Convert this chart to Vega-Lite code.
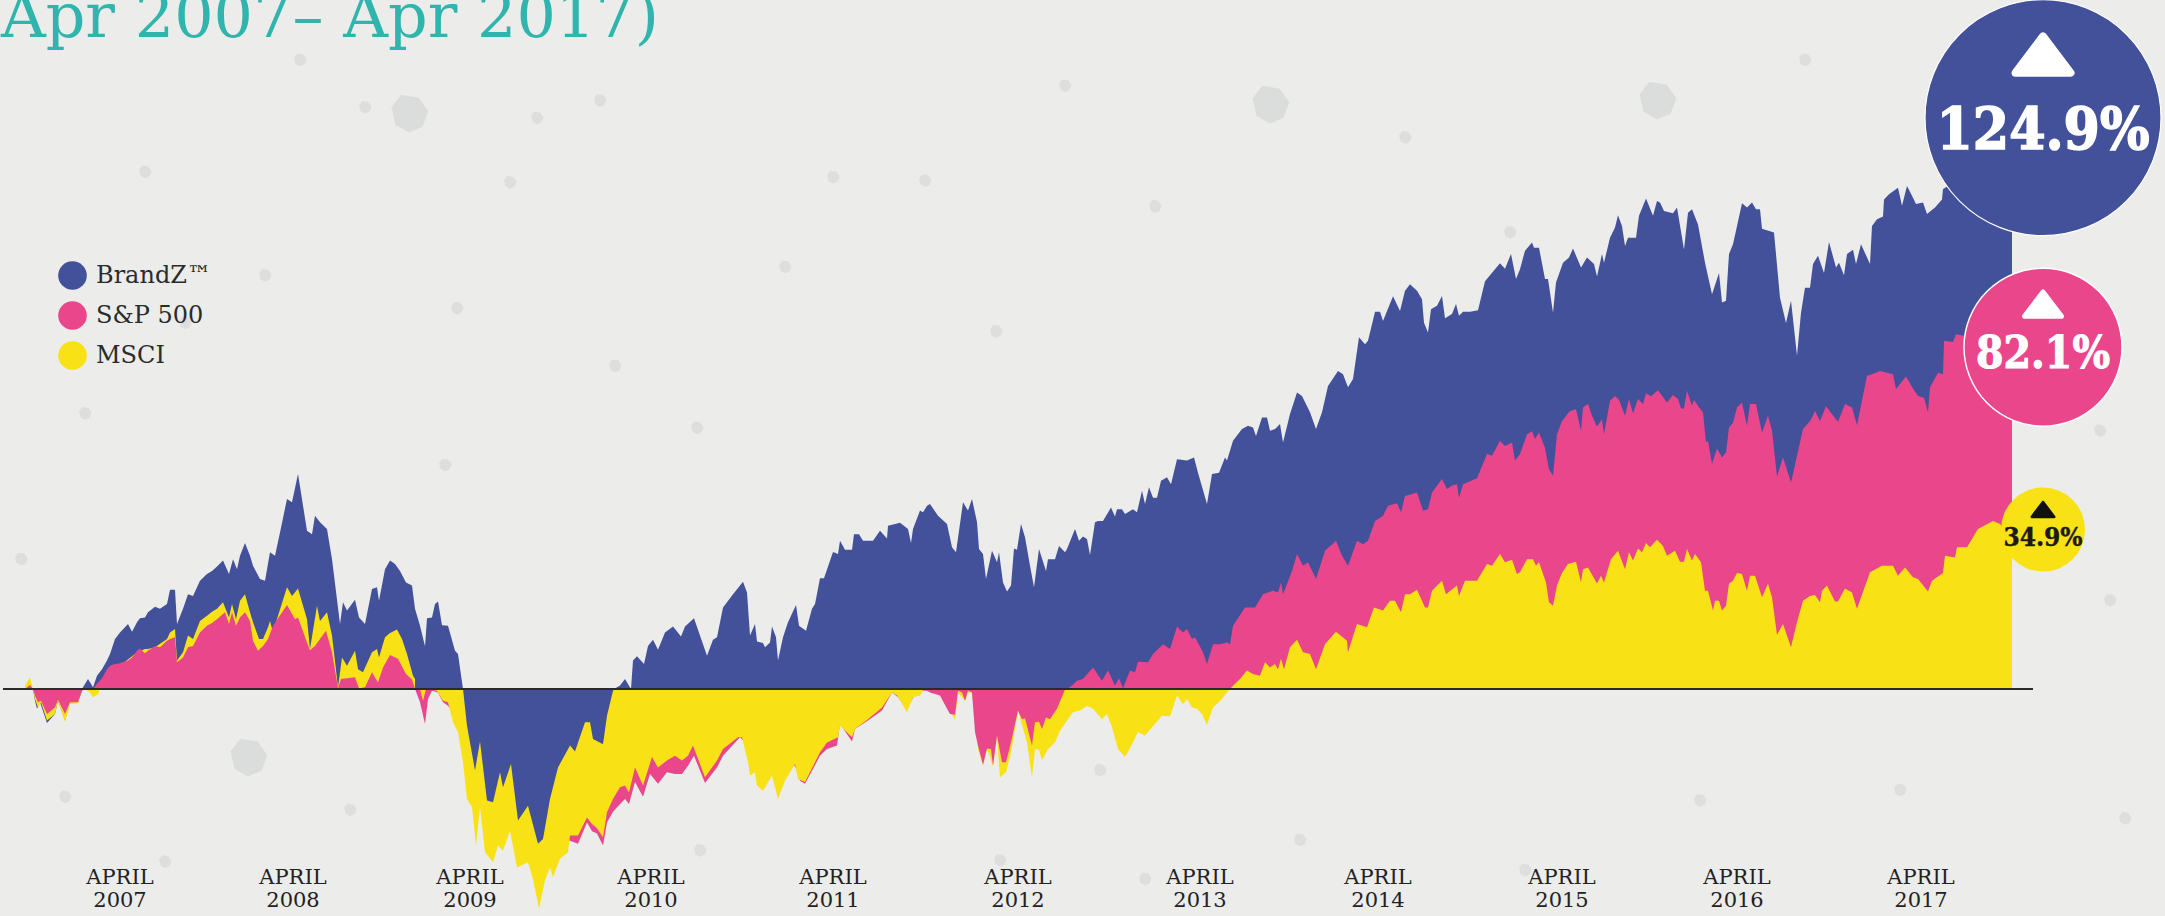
{
"$schema":"https://vega.github.io/schema/vega-lite/v6.json",
"width":2165,"height":916,"padding":0,"autosize":{"type":"none"},
"background":"#ececea",
"config":{"view":{"stroke":null}},
"datasets":{
"pits":[{"session":223,"pct":-15.8},{"session":384,"pct":133.6},{"session":1245,"pct":135.7},{"session":1632,"pct":136.6}],
"specks":[{"session":340,"pct":135},{"session":512,"pct":132.5},{"session":432,"pct":88.4},{"session":485,"pct":117.6},{"session":-4,"pct":30.2},{"session":808,"pct":118.8},{"session":672,"pct":60.6},{"session":971,"pct":83},{"session":2085,"pct":20.6},{"session":2075,"pct":60},{"session":1485,"pct":106},{"session":575,"pct":136.6},{"session":275,"pct":146},{"session":1075,"pct":-18.8},{"session":1275,"pct":-35},{"session":1675,"pct":-25.8},{"session":1875,"pct":-23.4},{"session":325,"pct":-28},{"session":675,"pct":-37.4},{"session":975,"pct":-39.7},{"session":120,"pct":120},{"session":160,"pct":85},{"session":60,"pct":64},{"session":240,"pct":96},{"session":420,"pct":52},{"session":590,"pct":75},{"session":760,"pct":98},{"session":900,"pct":118},{"session":1040,"pct":140},{"session":1130,"pct":112},{"session":1380,"pct":128},{"session":1780,"pct":146},{"session":2100,"pct":-30},{"session":1500,"pct":-42},{"session":1120,"pct":-44},{"session":140,"pct":-40},{"session":40,"pct":-25}],
"brandz":[{"session":0,"pct":0},{"session":5,"pct":0.6},{"session":8,"pct":0},{"session":10,"pct":-2.7},{"session":12,"pct":-4.6},{"session":15,"pct":-3.1},{"session":22,"pct":-7.9},{"session":30,"pct":-5.8},{"session":33,"pct":-2.7},{"session":40,"pct":-7.3},{"session":45,"pct":-3.1},{"session":53,"pct":-3.1},{"session":57,"pct":-0.4},{"session":58,"pct":0.4},{"session":63,"pct":2.3},{"session":68,"pct":0.4},{"session":72,"pct":3.1},{"session":77,"pct":4.6},{"session":82,"pct":6.6},{"session":85,"pct":8.1},{"session":90,"pct":11.6},{"session":95,"pct":13.1},{"session":103,"pct":15.1},{"session":107,"pct":13.3},{"session":112,"pct":15.5},{"session":115,"pct":16.4},{"session":120,"pct":16.6},{"session":123,"pct":17.8},{"session":130,"pct":19.1},{"session":135,"pct":18.6},{"session":142,"pct":19.7},{"session":145,"pct":23},{"session":150,"pct":23},{"session":152,"pct":15.1},{"session":158,"pct":18.6},{"session":163,"pct":22},{"session":168,"pct":21.6},{"session":175,"pct":25.1},{"session":182,"pct":26.7},{"session":187,"pct":27.4},{"session":192,"pct":28.4},{"session":198,"pct":29.8},{"session":204,"pct":26.7},{"session":208,"pct":30.1},{"session":212,"pct":27.8},{"session":215,"pct":30.9},{"session":220,"pct":33.9},{"session":225,"pct":30.9},{"session":228,"pct":28.6},{"session":235,"pct":25.5},{"session":240,"pct":25.1},{"session":245,"pct":31.7},{"session":250,"pct":30.9},{"session":255,"pct":36.3},{"session":262,"pct":44.1},{"session":267,"pct":43.3},{"session":273,"pct":49.9},{"session":282,"pct":36.7},{"session":287,"pct":35.9},{"session":290,"pct":40.2},{"session":295,"pct":38.7},{"session":302,"pct":37.1},{"session":307,"pct":30.1},{"session":315,"pct":15.1},{"session":318,"pct":20.1},{"session":322,"pct":18.2},{"session":330,"pct":20.7},{"session":334,"pct":16.6},{"session":340,"pct":15.1},{"session":347,"pct":23.2},{"session":352,"pct":23.6},{"session":354,"pct":20.5},{"session":360,"pct":27.8},{"session":365,"pct":29.8},{"session":370,"pct":29},{"session":375,"pct":27.4},{"session":381,"pct":24.7},{"session":387,"pct":24},{"session":390,"pct":18.6},{"session":395,"pct":14.7},{"session":400,"pct":9.9},{"session":402,"pct":16.4},{"session":407,"pct":16.6},{"session":410,"pct":19.7},{"session":413,"pct":20.3},{"session":417,"pct":14.8},{"session":423,"pct":14.7},{"session":430,"pct":8.9},{"session":433,"pct":8.1},{"session":438,"pct":0},{"session":442,"pct":-8.5},{"session":450,"pct":-18.9},{"session":455,"pct":-12.2},{"session":462,"pct":-25.9},{"session":468,"pct":-26.3},{"session":475,"pct":-19.3},{"session":478,"pct":-22.8},{"session":486,"pct":-17.4},{"session":493,"pct":-30.5},{"session":503,"pct":-27.1},{"session":513,"pct":-35.9},{"session":518,"pct":-34.8},{"session":525,"pct":-25.5},{"session":533,"pct":-18.2},{"session":545,"pct":-13.1},{"session":550,"pct":-14.5},{"session":560,"pct":-7.7},{"session":565,"pct":-7.7},{"session":568,"pct":-11.6},{"session":578,"pct":-12.8},{"session":582,"pct":-6.2},{"session":588,"pct":-0.4},{"session":590,"pct":0.1},{"session":592,"pct":0.4},{"session":595,"pct":0.8},{"session":600,"pct":2.3},{"session":606,"pct":0},{"session":608,"pct":6.6},{"session":612,"pct":7.6},{"session":619,"pct":5.8},{"session":623,"pct":10},{"session":628,"pct":11.4},{"session":633,"pct":9.1},{"session":640,"pct":13.1},{"session":648,"pct":14.5},{"session":656,"pct":12.2},{"session":660,"pct":14.5},{"session":669,"pct":16.4},{"session":682,"pct":7.7},{"session":688,"pct":11.4},{"session":692,"pct":12},{"session":698,"pct":18.9},{"session":708,"pct":22},{"session":718,"pct":24.9},{"session":722,"pct":22.4},{"session":725,"pct":12.4},{"session":730,"pct":15.1},{"session":732,"pct":11},{"session":738,"pct":10.7},{"session":740,"pct":9.7},{"session":745,"pct":10.8},{"session":747,"pct":14.5},{"session":751,"pct":12},{"session":753,"pct":6.6},{"session":758,"pct":12},{"session":763,"pct":15.5},{"session":771,"pct":19.5},{"session":774,"pct":14.7},{"session":781,"pct":13.5},{"session":787,"pct":18.6},{"session":790,"pct":19.7},{"session":795,"pct":25.7},{"session":799,"pct":25.7},{"session":808,"pct":31.8},{"session":813,"pct":31.3},{"session":815,"pct":34.4},{"session":820,"pct":32.3},{"session":827,"pct":32.3},{"session":829,"pct":35.9},{"session":834,"pct":35.9},{"session":838,"pct":34.4},{"session":848,"pct":34.4},{"session":855,"pct":36.7},{"session":862,"pct":34.9},{"session":863,"pct":37.9},{"session":875,"pct":38.6},{"session":883,"pct":37.1},{"session":886,"pct":33.9},{"session":888,"pct":37.1},{"session":895,"pct":41.4},{"session":898,"pct":41},{"session":902,"pct":42.5},{"session":905,"pct":42.9},{"session":913,"pct":40.2},{"session":922,"pct":38.3},{"session":927,"pct":32.9},{"session":931,"pct":31.7},{"session":938,"pct":43.3},{"session":943,"pct":41.4},{"session":947,"pct":44.1},{"session":952,"pct":38.7},{"session":954,"pct":32.5},{"session":958,"pct":31.3},{"session":961,"pct":25.5},{"session":967,"pct":32.1},{"session":972,"pct":29.4},{"session":974,"pct":31.7},{"session":978,"pct":24.7},{"session":982,"pct":22.6},{"session":986,"pct":24},{"session":989,"pct":32.6},{"session":992,"pct":32.3},{"session":996,"pct":38.3},{"session":1000,"pct":35.2},{"session":1005,"pct":28.6},{"session":1009,"pct":23.6},{"session":1014,"pct":32.5},{"session":1021,"pct":27.4},{"session":1023,"pct":30.1},{"session":1030,"pct":30.1},{"session":1034,"pct":33.2},{"session":1040,"pct":31.7},{"session":1042,"pct":32.5},{"session":1050,"pct":37.1},{"session":1054,"pct":34.4},{"session":1058,"pct":35.4},{"session":1062,"pct":34.8},{"session":1065,"pct":31.1},{"session":1070,"pct":38.7},{"session":1073,"pct":39},{"session":1078,"pct":39},{"session":1086,"pct":42.1},{"session":1090,"pct":40},{"session":1092,"pct":41.7},{"session":1097,"pct":41.7},{"session":1100,"pct":40.6},{"session":1108,"pct":41.7},{"session":1112,"pct":41},{"session":1117,"pct":46},{"session":1120,"pct":42.9},{"session":1124,"pct":46.8},{"session":1128,"pct":44.4},{"session":1132,"pct":44.4},{"session":1136,"pct":48.3},{"session":1142,"pct":49.1},{"session":1146,"pct":47.5},{"session":1152,"pct":53.3},{"session":1162,"pct":53},{"session":1169,"pct":53.7},{"session":1173,"pct":50.2},{"session":1182,"pct":42.9},{"session":1187,"pct":49.9},{"session":1194,"pct":50.2},{"session":1200,"pct":53.7},{"session":1202,"pct":53},{"session":1208,"pct":57.6},{"session":1217,"pct":60.3},{"session":1223,"pct":61.1},{"session":1228,"pct":60.7},{"session":1231,"pct":58.7},{"session":1237,"pct":63},{"session":1242,"pct":63},{"session":1245,"pct":59.9},{"session":1250,"pct":60.3},{"session":1255,"pct":61.5},{"session":1258,"pct":57.2},{"session":1265,"pct":63.8},{"session":1272,"pct":68.8},{"session":1277,"pct":68},{"session":1285,"pct":64.2},{"session":1291,"pct":60.3},{"session":1297,"pct":64.2},{"session":1303,"pct":70.3},{"session":1313,"pct":73.8},{"session":1318,"pct":73},{"session":1323,"pct":70},{"session":1328,"pct":71.9},{"session":1334,"pct":81.6},{"session":1340,"pct":80},{"session":1343,"pct":80.8},{"session":1350,"pct":87.5},{"session":1355,"pct":87.5},{"session":1358,"pct":85.4},{"session":1368,"pct":91.1},{"session":1375,"pct":87.7},{"session":1380,"pct":92.4},{"session":1385,"pct":93.9},{"session":1392,"pct":92.4},{"session":1397,"pct":90.4},{"session":1399,"pct":85},{"session":1403,"pct":82.7},{"session":1406,"pct":88.1},{"session":1412,"pct":88.9},{"session":1417,"pct":91.2},{"session":1420,"pct":86},{"session":1427,"pct":87},{"session":1431,"pct":89.3},{"session":1434,"pct":86.6},{"session":1438,"pct":87.5},{"session":1445,"pct":87.5},{"session":1453,"pct":87.9},{"session":1460,"pct":94.6},{"session":1475,"pct":98.8},{"session":1480,"pct":97.5},{"session":1486,"pct":100.9},{"session":1491,"pct":95.1},{"session":1495,"pct":97.4},{"session":1500,"pct":101.7},{"session":1507,"pct":103.6},{"session":1509,"pct":102.4},{"session":1514,"pct":102.4},{"session":1520,"pct":95.1},{"session":1523,"pct":95.1},{"session":1528,"pct":87.3},{"session":1531,"pct":94.3},{"session":1538,"pct":98.9},{"session":1544,"pct":100.1},{"session":1548,"pct":102.2},{"session":1556,"pct":97.8},{"session":1562,"pct":100.1},{"session":1569,"pct":98.6},{"session":1572,"pct":95.7},{"session":1577,"pct":100.9},{"session":1579,"pct":98.9},{"session":1585,"pct":104.7},{"session":1590,"pct":107.1},{"session":1593,"pct":109.9},{"session":1597,"pct":107.4},{"session":1600,"pct":102.8},{"session":1603,"pct":104.7},{"session":1611,"pct":104.7},{"session":1614,"pct":109.8},{"session":1621,"pct":113.8},{"session":1628,"pct":109.8},{"session":1632,"pct":113.2},{"session":1635,"pct":112.9},{"session":1639,"pct":110.9},{"session":1648,"pct":110.4},{"session":1652,"pct":111.7},{"session":1659,"pct":102},{"session":1663,"pct":110.5},{"session":1667,"pct":111.3},{"session":1673,"pct":107.8},{"session":1680,"pct":98.9},{"session":1687,"pct":91.6},{"session":1694,"pct":96.5},{"session":1697,"pct":89.7},{"session":1701,"pct":90.1},{"session":1704,"pct":100.9},{"session":1708,"pct":103.2},{"session":1717,"pct":112.7},{"session":1722,"pct":111.7},{"session":1727,"pct":112.9},{"session":1731,"pct":111.3},{"session":1735,"pct":111.3},{"session":1737,"pct":106.8},{"session":1749,"pct":105.9},{"session":1755,"pct":90.8},{"session":1761,"pct":84.9},{"session":1766,"pct":90.1},{"session":1772,"pct":77.3},{"session":1776,"pct":87.3},{"session":1780,"pct":93.1},{"session":1785,"pct":93.1},{"session":1788,"pct":98.6},{"session":1793,"pct":100.5},{"session":1799,"pct":96.5},{"session":1804,"pct":103.7},{"session":1811,"pct":97.8},{"session":1814,"pct":98.9},{"session":1819,"pct":96},{"session":1822,"pct":100.9},{"session":1828,"pct":101.9},{"session":1831,"pct":98.6},{"session":1836,"pct":103.2},{"session":1845,"pct":98.6},{"session":1847,"pct":107.4},{"session":1852,"pct":109},{"session":1858,"pct":109.6},{"session":1859,"pct":113.6},{"session":1864,"pct":114.8},{"session":1873,"pct":116.3},{"session":1877,"pct":112.1},{"session":1882,"pct":116.7},{"session":1888,"pct":114},{"session":1891,"pct":112.5},{"session":1898,"pct":112.9},{"session":1902,"pct":110.2},{"session":1910,"pct":111.7},{"session":1917,"pct":113.6},{"session":1918,"pct":116},{"session":1940,"pct":119},{"session":1987,"pct":124.9}],
"sp500":[{"session":0,"pct":0},{"session":5,"pct":0.9},{"session":8,"pct":0},{"session":10,"pct":-1.5},{"session":13,"pct":-3.1},{"session":16,"pct":-2.7},{"session":22,"pct":-5.8},{"session":30,"pct":-4.3},{"session":33,"pct":-2.5},{"session":40,"pct":-5.8},{"session":45,"pct":-3.1},{"session":53,"pct":-3.1},{"session":57,"pct":-0.4},{"session":60,"pct":0},{"session":68,"pct":0},{"session":72,"pct":1.2},{"session":77,"pct":2.5},{"session":82,"pct":4.6},{"session":85,"pct":5.4},{"session":90,"pct":5.8},{"session":95,"pct":6},{"session":103,"pct":6.6},{"session":107,"pct":7.3},{"session":112,"pct":8.9},{"session":115,"pct":9.4},{"session":120,"pct":8.3},{"session":123,"pct":8.9},{"session":130,"pct":10},{"session":135,"pct":9.7},{"session":142,"pct":11.2},{"session":145,"pct":11.6},{"session":150,"pct":12},{"session":152,"pct":6.2},{"session":158,"pct":7.3},{"session":163,"pct":9.7},{"session":168,"pct":10},{"session":175,"pct":13.1},{"session":182,"pct":14.7},{"session":187,"pct":15.3},{"session":192,"pct":16.2},{"session":200,"pct":17.8},{"session":204,"pct":15.1},{"session":207,"pct":17.8},{"session":211,"pct":14.7},{"session":215,"pct":16.6},{"session":220,"pct":17.8},{"session":225,"pct":15.8},{"session":228,"pct":11.2},{"session":233,"pct":8.9},{"session":238,"pct":10},{"session":243,"pct":11.6},{"session":248,"pct":14.7},{"session":262,"pct":19.5},{"session":270,"pct":16.2},{"session":273,"pct":16.6},{"session":282,"pct":10.8},{"session":285,"pct":9},{"session":290,"pct":10},{"session":295,"pct":11.6},{"session":301,"pct":13.5},{"session":307,"pct":8.5},{"session":313,"pct":0.2},{"session":316,"pct":2.3},{"session":322,"pct":2.5},{"session":330,"pct":2.7},{"session":334,"pct":0.2},{"session":340,"pct":0.4},{"session":347,"pct":3.9},{"session":353,"pct":1.5},{"session":358,"pct":5},{"session":365,"pct":7.9},{"session":373,"pct":7},{"session":381,"pct":3.5},{"session":387,"pct":2.2},{"session":390,"pct":0},{"session":395,"pct":-3.1},{"session":400,"pct":-8.1},{"session":403,"pct":-2.3},{"session":407,"pct":-0.4},{"session":413,"pct":-0.8},{"session":418,"pct":-3.1},{"session":423,"pct":-3.9},{"session":430,"pct":-6},{"session":440,"pct":-12},{"session":450,"pct":-26},{"session":470,"pct":-30},{"session":490,"pct":-34},{"session":505,"pct":-34},{"session":520,"pct":-37},{"session":535,"pct":-34},{"session":545,"pct":-35.2},{"session":553,"pct":-35.9},{"session":562,"pct":-31},{"session":567,"pct":-33},{"session":572,"pct":-33.5},{"session":578,"pct":-36.3},{"session":582,"pct":-31},{"session":588,"pct":-28.5},{"session":595,"pct":-26.7},{"session":600,"pct":-25.5},{"session":604,"pct":-26.7},{"session":610,"pct":-21.6},{"session":618,"pct":-25},{"session":625,"pct":-19.7},{"session":633,"pct":-22},{"session":642,"pct":-19.3},{"session":650,"pct":-19.7},{"session":657,"pct":-19.7},{"session":663,"pct":-17.8},{"session":669,"pct":-15.5},{"session":680,"pct":-21.8},{"session":692,"pct":-18.2},{"session":698,"pct":-15.5},{"session":715,"pct":-11.2},{"session":723,"pct":-13.1},{"session":732,"pct":-17},{"session":747,"pct":-15.5},{"session":753,"pct":-20.1},{"session":760,"pct":-17.8},{"session":770,"pct":-17.8},{"session":775,"pct":-21.3},{"session":780,"pct":-22},{"session":795,"pct":-15.5},{"session":802,"pct":-13.9},{"session":812,"pct":-13.1},{"session":815,"pct":-8.1},{"session":827,"pct":-12.2},{"session":830,"pct":-9.3},{"session":843,"pct":-7.3},{"session":857,"pct":-5},{"session":867,"pct":-0.8},{"session":873,"pct":-1.9},{"session":882,"pct":-4.6},{"session":890,"pct":-1.2},{"session":895,"pct":-0.4},{"session":902,"pct":-0.4},{"session":905,"pct":-0.8},{"session":915,"pct":-1.5},{"session":922,"pct":-4.6},{"session":925,"pct":-5.8},{"session":930,"pct":-6},{"session":933,"pct":-0.4},{"session":937,"pct":-0.8},{"session":940,"pct":-2.7},{"session":943,"pct":-0.4},{"session":947,"pct":-0.8},{"session":950,"pct":-10},{"session":953,"pct":-13.1},{"session":958,"pct":-17.6},{"session":962,"pct":-13.8},{"session":966,"pct":-13.9},{"session":968,"pct":-17.8},{"session":972,"pct":-10.8},{"session":977,"pct":-17},{"session":981,"pct":-17},{"session":986,"pct":-12.4},{"session":993,"pct":-5},{"session":997,"pct":-7},{"session":1000,"pct":-6.8},{"session":1007,"pct":-13.1},{"session":1010,"pct":-7.7},{"session":1014,"pct":-7.6},{"session":1017,"pct":-9.3},{"session":1021,"pct":-6.6},{"session":1025,"pct":-7},{"session":1032,"pct":-4.6},{"session":1040,"pct":-0.2},{"session":1042,"pct":0},{"session":1047,"pct":0.8},{"session":1052,"pct":1.9},{"session":1058,"pct":2.3},{"session":1068,"pct":5},{"session":1077,"pct":1.9},{"session":1083,"pct":4.3},{"session":1090,"pct":0.8},{"session":1094,"pct":2.5},{"session":1098,"pct":0.2},{"session":1105,"pct":4.3},{"session":1110,"pct":3.9},{"session":1113,"pct":6.3},{"session":1123,"pct":6.2},{"session":1128,"pct":8.1},{"session":1138,"pct":10.4},{"session":1145,"pct":9.3},{"session":1152,"pct":14.5},{"session":1158,"pct":13.1},{"session":1162,"pct":13.9},{"session":1167,"pct":11.6},{"session":1170,"pct":12},{"session":1178,"pct":8.5},{"session":1182,"pct":5.8},{"session":1188,"pct":10.4},{"session":1195,"pct":10.4},{"session":1202,"pct":10.8},{"session":1205,"pct":10.4},{"session":1208,"pct":14.7},{"session":1220,"pct":18.9},{"session":1230,"pct":18.9},{"session":1238,"pct":22},{"session":1248,"pct":22.8},{"session":1253,"pct":22.4},{"session":1256,"pct":24.7},{"session":1258,"pct":22},{"session":1267,"pct":27.4},{"session":1272,"pct":31.3},{"session":1278,"pct":28.6},{"session":1283,"pct":29.4},{"session":1291,"pct":25.5},{"session":1300,"pct":32.1},{"session":1311,"pct":34.4},{"session":1317,"pct":30.9},{"session":1323,"pct":28.6},{"session":1332,"pct":34.4},{"session":1338,"pct":33.6},{"session":1343,"pct":34.4},{"session":1350,"pct":39},{"session":1358,"pct":40.2},{"session":1363,"pct":42.5},{"session":1372,"pct":43.1},{"session":1376,"pct":41},{"session":1380,"pct":44.8},{"session":1392,"pct":45.6},{"session":1398,"pct":41.4},{"session":1403,"pct":41.7},{"session":1407,"pct":45.6},{"session":1417,"pct":48.7},{"session":1422,"pct":46.4},{"session":1427,"pct":47.2},{"session":1432,"pct":47.5},{"session":1434,"pct":44.4},{"session":1438,"pct":47.5},{"session":1452,"pct":48.9},{"session":1462,"pct":54.5},{"session":1467,"pct":54.1},{"session":1475,"pct":57.6},{"session":1480,"pct":56.4},{"session":1487,"pct":57.2},{"session":1490,"pct":53},{"session":1495,"pct":54.5},{"session":1502,"pct":59.1},{"session":1507,"pct":59.8},{"session":1510,"pct":58},{"session":1514,"pct":59.5},{"session":1520,"pct":56},{"session":1524,"pct":51},{"session":1528,"pct":49.5},{"session":1532,"pct":59.1},{"session":1537,"pct":62.2},{"session":1545,"pct":64.5},{"session":1551,"pct":64.9},{"session":1556,"pct":59.9},{"session":1558,"pct":65.3},{"session":1563,"pct":66.1},{"session":1567,"pct":63.4},{"session":1572,"pct":60.9},{"session":1577,"pct":62.6},{"session":1579,"pct":59.1},{"session":1585,"pct":66.9},{"session":1590,"pct":68},{"session":1594,"pct":67.1},{"session":1600,"pct":63.4},{"session":1604,"pct":67.3},{"session":1608,"pct":64},{"session":1613,"pct":67.3},{"session":1618,"pct":66.1},{"session":1621,"pct":68.6},{"session":1626,"pct":67.9},{"session":1633,"pct":69.3},{"session":1642,"pct":66.5},{"session":1648,"pct":68.2},{"session":1653,"pct":67.3},{"session":1656,"pct":65.1},{"session":1659,"pct":65.1},{"session":1662,"pct":69.2},{"session":1667,"pct":65.7},{"session":1669,"pct":67.1},{"session":1674,"pct":65.3},{"session":1678,"pct":64.2},{"session":1681,"pct":57.2},{"session":1683,"pct":57.6},{"session":1687,"pct":52.2},{"session":1692,"pct":55.8},{"session":1697,"pct":53.7},{"session":1701,"pct":54.9},{"session":1704,"pct":60.7},{"session":1708,"pct":61.8},{"session":1712,"pct":65.3},{"session":1717,"pct":66.5},{"session":1722,"pct":61.1},{"session":1725,"pct":66.1},{"session":1731,"pct":66.1},{"session":1737,"pct":59.5},{"session":1743,"pct":63.4},{"session":1747,"pct":59.9},{"session":1752,"pct":49.3},{"session":1758,"pct":53.7},{"session":1766,"pct":47.9},{"session":1772,"pct":54.1},{"session":1778,"pct":60.3},{"session":1785,"pct":62.2},{"session":1787,"pct":63},{"session":1790,"pct":64.5},{"session":1795,"pct":62.2},{"session":1801,"pct":65.6},{"session":1813,"pct":62},{"session":1820,"pct":66.1},{"session":1827,"pct":65.3},{"session":1832,"pct":61.2},{"session":1842,"pct":72.7},{"session":1847,"pct":73},{"session":1855,"pct":73.8},{"session":1862,"pct":73.4},{"session":1868,"pct":73},{"session":1871,"pct":69.6},{"session":1881,"pct":72.5},{"session":1888,"pct":69.7},{"session":1893,"pct":68},{"session":1899,"pct":67.6},{"session":1903,"pct":64.2},{"session":1905,"pct":70},{"session":1913,"pct":73.4},{"session":1918,"pct":73},{"session":1919,"pct":80.8},{"session":1928,"pct":80.5},{"session":1931,"pct":82.3},{"session":1940,"pct":81.9},{"session":1945,"pct":81.6},{"session":1987,"pct":82.1}],
"msci":[{"session":0,"pct":0.8},{"session":5,"pct":2.7},{"session":8,"pct":0},{"session":10,"pct":-2.3},{"session":13,"pct":-4.3},{"session":16,"pct":-3.1},{"session":22,"pct":-7.3},{"session":30,"pct":-5.8},{"session":33,"pct":-2.7},{"session":40,"pct":-7.6},{"session":45,"pct":-3.5},{"session":53,"pct":-3.3},{"session":57,"pct":-0.4},{"session":60,"pct":0},{"session":65,"pct":-0.8},{"session":68,"pct":-1.9},{"session":73,"pct":-1.2},{"session":77,"pct":1.5},{"session":82,"pct":4.3},{"session":95,"pct":5.4},{"session":112,"pct":8.5},{"session":120,"pct":9.3},{"session":123,"pct":9.3},{"session":130,"pct":9.7},{"session":142,"pct":11.6},{"session":145,"pct":13.1},{"session":150,"pct":13.9},{"session":152,"pct":6.6},{"session":158,"pct":8.5},{"session":163,"pct":12.4},{"session":168,"pct":11.6},{"session":175,"pct":15.8},{"session":182,"pct":17},{"session":187,"pct":17.9},{"session":192,"pct":18.6},{"session":198,"pct":20.1},{"session":204,"pct":16.6},{"session":207,"pct":19.7},{"session":211,"pct":16.2},{"session":215,"pct":20.5},{"session":220,"pct":22},{"session":225,"pct":17.8},{"session":228,"pct":15.5},{"session":234,"pct":11.6},{"session":238,"pct":11.6},{"session":243,"pct":14.3},{"session":245,"pct":15.8},{"session":248,"pct":13.1},{"session":253,"pct":17},{"session":262,"pct":23.6},{"session":267,"pct":21.6},{"session":273,"pct":23.3},{"session":282,"pct":16.2},{"session":285,"pct":9.3},{"session":292,"pct":19.3},{"session":295,"pct":15.8},{"session":302,"pct":17.8},{"session":307,"pct":12.4},{"session":313,"pct":0.4},{"session":317,"pct":7.3},{"session":322,"pct":5.4},{"session":330,"pct":8.9},{"session":333,"pct":4.6},{"session":338,"pct":3.9},{"session":347,"pct":8.5},{"session":352,"pct":9.3},{"session":354,"pct":7.3},{"session":360,"pct":12},{"session":365,"pct":13},{"session":372,"pct":13.8},{"session":377,"pct":11.6},{"session":382,"pct":8.1},{"session":388,"pct":3.1},{"session":390,"pct":2.3},{"session":395,"pct":0},{"session":398,"pct":-2.7},{"session":402,"pct":0.8},{"session":407,"pct":-0.2},{"session":412,"pct":-0.4},{"session":418,"pct":-2.7},{"session":423,"pct":-3.1},{"session":428,"pct":-7.7},{"session":433,"pct":-10},{"session":438,"pct":-17},{"session":442,"pct":-25.5},{"session":447,"pct":-27.4},{"session":451,"pct":-36.3},{"session":455,"pct":-27.4},{"session":460,"pct":-37.9},{"session":468,"pct":-40.2},{"session":473,"pct":-36.3},{"session":478,"pct":-37.5},{"session":485,"pct":-32.9},{"session":492,"pct":-41.4},{"session":503,"pct":-40.2},{"session":508,"pct":-44.1},{"session":514,"pct":-51},{"session":520,"pct":-44.4},{"session":525,"pct":-41.4},{"session":528,"pct":-43.7},{"session":535,"pct":-39.4},{"session":543,"pct":-37.9},{"session":545,"pct":-34},{"session":553,"pct":-34},{"session":562,"pct":-29.8},{"session":567,"pct":-31.3},{"session":572,"pct":-32.3},{"session":578,"pct":-34.4},{"session":582,"pct":-28.6},{"session":588,"pct":-25.5},{"session":595,"pct":-22.8},{"session":600,"pct":-22.4},{"session":604,"pct":-24},{"session":610,"pct":-18.2},{"session":618,"pct":-22.4},{"session":627,"pct":-15.8},{"session":633,"pct":-18.2},{"session":642,"pct":-16.6},{"session":650,"pct":-15.5},{"session":657,"pct":-16.6},{"session":663,"pct":-15.5},{"session":668,"pct":-13.1},{"session":680,"pct":-20.5},{"session":692,"pct":-16.6},{"session":698,"pct":-13.9},{"session":713,"pct":-11.2},{"session":717,"pct":-11.2},{"session":723,"pct":-17},{"session":725,"pct":-20.1},{"session":730,"pct":-19.3},{"session":732,"pct":-22.4},{"session":738,"pct":-23.6},{"session":747,"pct":-20.1},{"session":753,"pct":-25.5},{"session":760,"pct":-21.3},{"session":770,"pct":-17.4},{"session":773,"pct":-20.9},{"session":780,"pct":-21.6},{"session":795,"pct":-14.7},{"session":802,"pct":-12.4},{"session":813,"pct":-11.2},{"session":815,"pct":-8.5},{"session":827,"pct":-11.2},{"session":830,"pct":-9.3},{"session":843,"pct":-7},{"session":857,"pct":-4.3},{"session":867,"pct":-0.8},{"session":872,"pct":-1.5},{"session":882,"pct":-5.4},{"session":888,"pct":-1.9},{"session":895,"pct":-1.5},{"session":898,"pct":-0.4},{"session":902,"pct":1.5},{"session":905,"pct":0},{"session":915,"pct":-1.5},{"session":922,"pct":-3.9},{"session":930,"pct":-7.1},{"session":933,"pct":-0.8},{"session":940,"pct":-2.7},{"session":943,"pct":-0.8},{"session":947,"pct":-0.8},{"session":953,"pct":-13.9},{"session":958,"pct":-17.8},{"session":962,"pct":-13.8},{"session":968,"pct":-17.8},{"session":972,"pct":-10.8},{"session":975,"pct":-20.5},{"session":981,"pct":-19.3},{"session":986,"pct":-14.7},{"session":993,"pct":-5},{"session":1002,"pct":-12.4},{"session":1007,"pct":-20.5},{"session":1010,"pct":-13.9},{"session":1014,"pct":-14.1},{"session":1017,"pct":-16.6},{"session":1023,"pct":-13.9},{"session":1030,"pct":-12.4},{"session":1035,"pct":-9.7},{"session":1042,"pct":-7.3},{"session":1048,"pct":-5.4},{"session":1055,"pct":-5},{"session":1062,"pct":-3.9},{"session":1068,"pct":-4.6},{"session":1077,"pct":-7},{"session":1082,"pct":-5.8},{"session":1087,"pct":-8.9},{"session":1093,"pct":-13.9},{"session":1100,"pct":-15.8},{"session":1107,"pct":-12.8},{"session":1113,"pct":-10},{"session":1120,"pct":-10.8},{"session":1127,"pct":-8.9},{"session":1137,"pct":-6.2},{"session":1145,"pct":-6.3},{"session":1152,"pct":-1.5},{"session":1158,"pct":-3.5},{"session":1162,"pct":-2.3},{"session":1167,"pct":-4.3},{"session":1172,"pct":-4.6},{"session":1177,"pct":-5.8},{"session":1182,"pct":-8.3},{"session":1188,"pct":-4.3},{"session":1195,"pct":-2.8},{"session":1205,"pct":0},{"session":1210,"pct":1.2},{"session":1215,"pct":2.3},{"session":1222,"pct":4.3},{"session":1228,"pct":3.5},{"session":1235,"pct":3.1},{"session":1240,"pct":6.2},{"session":1245,"pct":5},{"session":1250,"pct":5.8},{"session":1253,"pct":4.6},{"session":1256,"pct":7},{"session":1259,"pct":4.6},{"session":1265,"pct":9.7},{"session":1272,"pct":11.4},{"session":1278,"pct":8.5},{"session":1285,"pct":8.1},{"session":1291,"pct":4.6},{"session":1300,"pct":10.4},{"session":1311,"pct":13.3},{"session":1322,"pct":11.2},{"session":1323,"pct":8.5},{"session":1332,"pct":15.1},{"session":1342,"pct":14.3},{"session":1349,"pct":18.9},{"session":1358,"pct":18.2},{"session":1365,"pct":20.5},{"session":1370,"pct":20.5},{"session":1376,"pct":17.8},{"session":1380,"pct":22},{"session":1385,"pct":22},{"session":1392,"pct":23},{"session":1400,"pct":18.9},{"session":1403,"pct":18.9},{"session":1407,"pct":22.8},{"session":1417,"pct":25.1},{"session":1421,"pct":22},{"session":1432,"pct":24},{"session":1434,"pct":21.6},{"session":1440,"pct":25.1},{"session":1452,"pct":25.1},{"session":1462,"pct":29},{"session":1467,"pct":28.6},{"session":1475,"pct":31.3},{"session":1480,"pct":29.4},{"session":1487,"pct":30},{"session":1492,"pct":26.7},{"session":1495,"pct":27.1},{"session":1502,"pct":30.1},{"session":1508,"pct":30.1},{"session":1511,"pct":28.6},{"session":1514,"pct":29.4},{"session":1521,"pct":24.7},{"session":1524,"pct":20.1},{"session":1528,"pct":19.3},{"session":1532,"pct":24},{"session":1537,"pct":26.9},{"session":1543,"pct":29},{"session":1551,"pct":29.5},{"session":1556,"pct":24.7},{"session":1558,"pct":27.8},{"session":1563,"pct":28.2},{"session":1572,"pct":24.5},{"session":1576,"pct":26.3},{"session":1579,"pct":24.7},{"session":1586,"pct":30.1},{"session":1593,"pct":32.1},{"session":1600,"pct":27.8},{"session":1604,"pct":31.7},{"session":1608,"pct":29.8},{"session":1613,"pct":32.6},{"session":1617,"pct":31.7},{"session":1621,"pct":33.9},{"session":1625,"pct":32.9},{"session":1632,"pct":34.6},{"session":1638,"pct":33.2},{"session":1642,"pct":30.9},{"session":1650,"pct":32.1},{"session":1655,"pct":29.5},{"session":1659,"pct":29.5},{"session":1662,"pct":32.5},{"session":1667,"pct":29.8},{"session":1670,"pct":31.3},{"session":1676,"pct":29.4},{"session":1680,"pct":22.8},{"session":1683,"pct":22.8},{"session":1688,"pct":18.2},{"session":1690,"pct":20.5},{"session":1694,"pct":20.5},{"session":1697,"pct":18.2},{"session":1701,"pct":19.3},{"session":1704,"pct":24.4},{"session":1708,"pct":25.1},{"session":1712,"pct":26.9},{"session":1717,"pct":26.7},{"session":1722,"pct":22.8},{"session":1725,"pct":26.3},{"session":1730,"pct":26.3},{"session":1737,"pct":21.3},{"session":1743,"pct":24.4},{"session":1747,"pct":21.3},{"session":1752,"pct":12.6},{"session":1758,"pct":15.1},{"session":1766,"pct":9.7},{"session":1772,"pct":15.5},{"session":1778,"pct":20.5},{"session":1785,"pct":21.6},{"session":1790,"pct":21.8},{"session":1795,"pct":20.1},{"session":1797,"pct":22.8},{"session":1802,"pct":24},{"session":1810,"pct":20.3},{"session":1813,"pct":20.3},{"session":1820,"pct":23.3},{"session":1827,"pct":22.4},{"session":1832,"pct":18.6},{"session":1842,"pct":25.1},{"session":1845,"pct":27.1},{"session":1857,"pct":28.6},{"session":1868,"pct":28.6},{"session":1873,"pct":26.3},{"session":1880,"pct":28.2},{"session":1888,"pct":25.9},{"session":1893,"pct":25.5},{"session":1903,"pct":22.6},{"session":1907,"pct":25.1},{"session":1918,"pct":26.9},{"session":1920,"pct":30.9},{"session":1930,"pct":30.5},{"session":1932,"pct":32.9},{"session":1942,"pct":32.9},{"session":1947,"pct":34.8},{"session":1953,"pct":37.1},{"session":1968,"pct":39},{"session":1975,"pct":38.3},{"session":1987,"pct":34.9}],
"closing":[{"series":"BrandZ™","session":2018,"pct":124.9,"label":"124.9%"},{"series":"S&P 500","session":2018,"pct":82.1,"label":"82.1%"},{"series":"MSCI","session":2018,"pct":34.9,"label":"34.9%"}],
"years":[{"session":95,"pct":-43.8,"label":"APRIL\n2007"},{"session":268,"pct":-43.8,"label":"APRIL\n2008"},{"session":445,"pct":-43.8,"label":"APRIL\n2009"},{"session":626,"pct":-43.8,"label":"APRIL\n2010"},{"session":808,"pct":-43.8,"label":"APRIL\n2011"},{"session":993,"pct":-43.8,"label":"APRIL\n2012"},{"session":1175,"pct":-43.8,"label":"APRIL\n2013"},{"session":1353,"pct":-43.8,"label":"APRIL\n2014"},{"session":1537,"pct":-43.8,"label":"APRIL\n2015"},{"session":1712,"pct":-43.8,"label":"APRIL\n2016"},{"session":1896,"pct":-43.8,"label":"APRIL\n2017"}]
},
"encoding":{
"x":{"field":"session","type":"quantitative","axis":null,"scale":{"domain":[-25,2140],"nice":false,"zero":false}},
"y":{"field":"pct","type":"quantitative","stack":null,"axis":null,"scale":{"domain":[-52.67,159.86],"nice":false,"zero":false}}
},
"layer":[
{"data":{"name":"pits"},"mark":{"type":"point","filled":true,"shape":"M-0.9,-0.3L-0.4,-0.95L0.5,-0.8L1,-0.1L0.7,0.7L0,1L-0.7,0.6Z","size":1500,"color":"#cdd0d0","opacity":0.55}},
{"data":{"name":"specks"},"mark":{"type":"point","filled":true,"shape":"M-0.9,-0.3L-0.4,-0.95L0.5,-0.8L1,-0.1L0.7,0.7L0,1L-0.7,0.6Z","size":170,"color":"#cdd0d0","opacity":0.5}},
{"data":{"name":"brandz"},"transform":[{"filter":"datum.session<=390"}],"mark":{"type":"area"},"encoding":{"y2":{"datum":0},"color":{"datum":"BrandZ™","type":"nominal","scale":{"domain":["BrandZ™","S&P 500","MSCI"],"range":["#42519a","#ea468b","#f8e114"]},"legend":{"title":null,"orient":"none","legendX":58,"legendY":261,"symbolType":"circle","symbolSize":820,"symbolStrokeWidth":0,"symbolOpacity":1,"labelFont":"DejaVu Serif","labelFontSize":24,"labelColor":"#2b2b2b","labelOffset":9,"rowPadding":11,"padding":0}}}},
{"data":{"name":"brandz"},"transform":[{"filter":"datum.session>=1042"}],"mark":{"type":"area"},"encoding":{"y2":{"datum":0},"color":{"datum":"BrandZ™","type":"nominal"}}},
{"data":{"name":"sp500"},"transform":[{"filter":"datum.session>=390 && datum.session<=902"}],"mark":{"type":"area"},"encoding":{"y2":{"datum":0},"color":{"datum":"S&P 500","type":"nominal"}}},
{"data":{"name":"msci"},"transform":[{"filter":"datum.session<=1042"}],"mark":{"type":"area"},"encoding":{"y2":{"datum":0},"color":{"datum":"MSCI","type":"nominal"}}},
{"data":{"name":"sp500"},"transform":[{"filter":"datum.session<=390"}],"mark":{"type":"area"},"encoding":{"y2":{"datum":0},"color":{"datum":"S&P 500","type":"nominal"}}},
{"data":{"name":"sp500"},"transform":[{"filter":"datum.session>=902"}],"mark":{"type":"area"},"encoding":{"y2":{"datum":0},"color":{"datum":"S&P 500","type":"nominal"}}},
{"data":{"name":"brandz"},"transform":[{"filter":"datum.session>=390 && datum.session<=1042"}],"mark":{"type":"area"},"encoding":{"y2":{"datum":0},"color":{"datum":"BrandZ™","type":"nominal"}}},
{"data":{"name":"msci"},"transform":[{"filter":"datum.session>=1042"}],"mark":{"type":"area"},"encoding":{"y2":{"datum":0},"color":{"datum":"MSCI","type":"nominal"}}},
{"data":{"values":[{"session":-22,"end":2008,"pct":0}]},"mark":{"type":"rule","color":"#2a2a2a","strokeWidth":2},"encoding":{"x2":{"field":"end"}}},
{"data":{"name":"closing"},"transform":[{"filter":"datum.series=='BrandZ™'"}],"mark":{"type":"point","filled":true,"size":55696,"fill":"#42519a","stroke":"#ffffff","strokeWidth":1.2,"opacity":1,"yOffset":-33}},
{"data":{"name":"closing"},"transform":[{"filter":"datum.series=='S&P 500'"}],"mark":{"type":"point","filled":true,"size":24964,"fill":"#ea468b","stroke":"#ffffff","strokeWidth":1.5,"opacity":1,"yOffset":12}},
{"data":{"name":"closing"},"transform":[{"filter":"datum.series=='MSCI'"}],"mark":{"type":"point","filled":true,"size":7056,"fill":"#f8e114","opacity":1,"yOffset":-9}},
{"data":{"name":"closing"},"transform":[{"filter":"datum.series=='BrandZ™'"}],"mark":{"type":"point","filled":true,"shape":"M-1,0.66L0,-0.66L1,0.66Z","size":3025,"fill":"#ffffff","stroke":"#ffffff","strokeWidth":8,"strokeJoin":"round","opacity":1,"yOffset":-96}},
{"data":{"name":"closing"},"transform":[{"filter":"datum.series=='S&P 500'"}],"mark":{"type":"point","filled":true,"shape":"M-1,0.66L0,-0.66L1,0.66Z","size":1369,"fill":"#ffffff","stroke":"#ffffff","strokeWidth":5,"strokeJoin":"round","opacity":1,"yOffset":-31}},
{"data":{"name":"closing"},"transform":[{"filter":"datum.series=='MSCI'"}],"mark":{"type":"point","filled":true,"shape":"M-1,0.66L0,-0.66L1,0.66Z","size":484,"fill":"#111111","stroke":"#111111","strokeWidth":3,"strokeJoin":"round","opacity":1,"yOffset":-29}},
{"data":{"name":"closing"},"transform":[{"filter":"datum.series=='BrandZ™'"}],"mark":{"type":"text","font":"DejaVu Serif Condensed, DejaVu Serif","fontWeight":"bold","fontSize":58,"color":"#ffffff","stroke":"#ffffff","strokeWidth":1.5,"baseline":"middle","yOffset":-19},"encoding":{"text":{"field":"label"}}},
{"data":{"name":"closing"},"transform":[{"filter":"datum.series=='S&P 500'"}],"mark":{"type":"text","font":"DejaVu Serif Condensed, DejaVu Serif","fontWeight":"bold","fontSize":44,"color":"#ffffff","stroke":"#ffffff","strokeWidth":1,"baseline":"middle","yOffset":20},"encoding":{"text":{"field":"label"}}},
{"data":{"name":"closing"},"transform":[{"filter":"datum.series=='MSCI'"}],"mark":{"type":"text","font":"DejaVu Serif Condensed, DejaVu Serif","fontWeight":"bold","fontSize":26,"color":"#1a1a1a","stroke":"#1a1a1a","strokeWidth":0.4,"baseline":"middle","yOffset":-1},"encoding":{"text":{"field":"label"}}},
{"data":{"name":"years"},"mark":{"type":"text","font":"DejaVu Serif","fontSize":21,"color":"#222222","lineBreak":"\n","lineHeight":23,"baseline":"middle"},"encoding":{"text":{"field":"label"}}},
{"data":{"values":[{"session":634,"pct":151.3,"label":"Apr 2007– Apr 2017)"}]},"mark":{"type":"text","font":"DejaVu Serif","fontSize":62,"color":"#2fb5ad","align":"right","baseline":"alphabetic"},"encoding":{"text":{"field":"label"}}}
]
}
